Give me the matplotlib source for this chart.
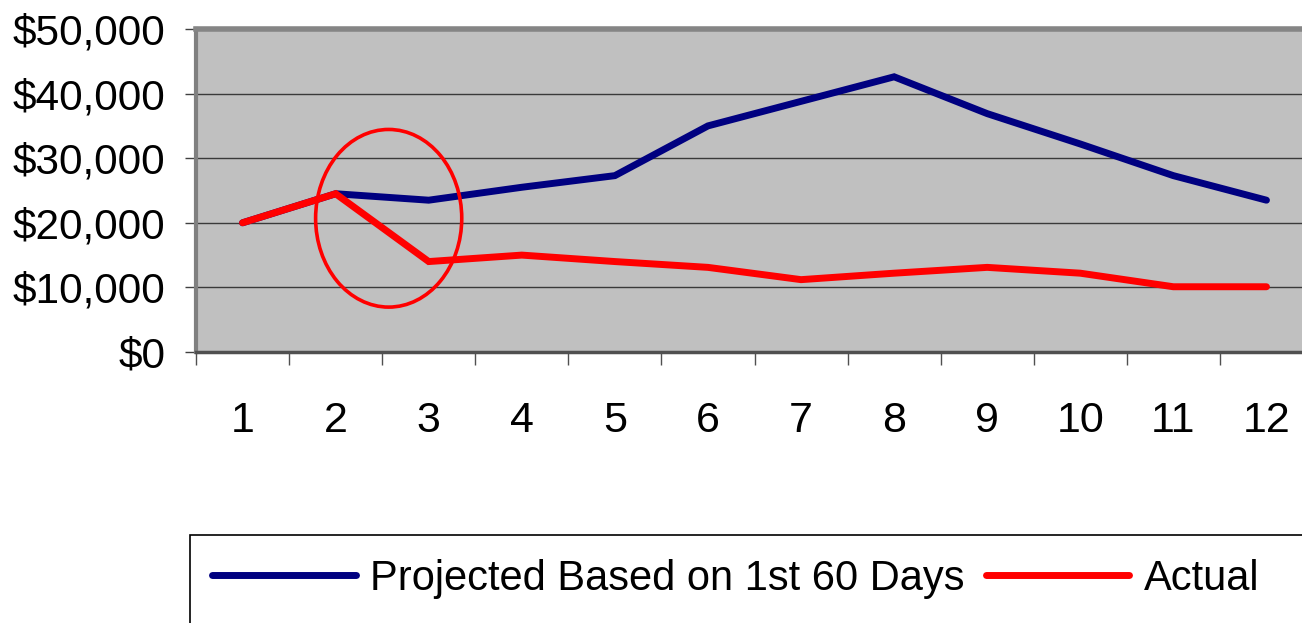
import matplotlib
matplotlib.use("Agg")
import matplotlib.pyplot as plt
from matplotlib.patches import Ellipse, Rectangle
from matplotlib.ticker import FuncFormatter, FixedLocator

plt.rcParams['font.family'] = ['Liberation Sans', 'DejaVu Sans']

months = [1, 2, 3, 4, 5, 6, 7, 8, 9, 10, 11, 12]
month_labels = [str(m) for m in months]
projected = [20000, 24500, 23500, 25500, 27300, 35000, 38800, 42600, 36900, 32200, 27300, 23500]
actual = [20000, 24500, 14000, 15000, 14000, 13100, 11200, 12200, 13100, 12200, 10100, 10100]
series_names = ["Projected Based on 1st 60 Days", "Actual"]
y_ticks = [0, 10000, 20000, 30000, 40000, 50000]

# highlight ellipse (data coords)
ell_center = (2.57, 20700)
ell_width = 1.57
ell_height = 27500

W, H = 1302, 623
fig = plt.figure(figsize=(W / 100, H / 100), dpi=100)
ax = fig.add_axes([196 / W, 1 - 352 / H, (1313 - 196) / W, (352 - 29) / H])
ax.set_facecolor('#C0C0C0')

ax.set_xlim(0.5, 12.5)
ax.set_ylim(0, 50000)

for yv in y_ticks[1:]:
    ax.axhline(yv, color='#3a3a3a', lw=1.0, zorder=1)

l1, = ax.plot(months, projected, color='#000080', lw=5, solid_capstyle='round',
              solid_joinstyle='miter', zorder=3, label=series_names[0])
l2, = ax.plot(months, actual, color='#FF0000', lw=5, solid_capstyle='round',
              solid_joinstyle='miter', zorder=4, label=series_names[1])

ax.add_patch(Ellipse(ell_center, ell_width, ell_height, fill=False,
                     edgecolor='#FF0000', lw=2.6, zorder=5))

# y axis
ax.set_yticks(y_ticks)
ax.yaxis.set_major_formatter(FuncFormatter(lambda v, p: "${:,.0f}".format(v)))
ax.tick_params(axis='y', direction='out', length=8, width=1, color='#404040',
               labelsize=30.5, pad=14)

# x axis: ticks at boundaries, labels at centers
ax.xaxis.set_major_locator(FixedLocator([m - 0.5 for m in months] + [12.5]))
ax.xaxis.set_minor_locator(FixedLocator(months))
ax.set_xticklabels([])
ax.set_xticklabels(month_labels, minor=True)
ax.tick_params(axis='x', which='major', direction='out', length=9, width=1, color='#505050')
ax.tick_params(axis='x', which='minor', length=0, labelsize=31, pad=35)

ax.spines['top'].set_color('#858585')
ax.spines['top'].set_linewidth(4)
ax.spines['left'].set_color('#808080')
ax.spines['left'].set_linewidth(3)
ax.spines['bottom'].set_color('#505050')
ax.spines['bottom'].set_linewidth(2.5)
ax.spines['right'].set_visible(False)

# legend box (extends past figure edges)
fig.patches.append(Rectangle((190 / W, -0.1), 1.0, (1 - 535 / H) + 0.1,
                             transform=fig.transFigure, fill=False,
                             edgecolor='black', lw=1.2))
fig.legend(handles=[l1, l2], loc='center left', bbox_to_anchor=(212 / W, 1 - 579 / H),
           ncol=2, frameon=False, fontsize=30, borderpad=0, borderaxespad=0,
           handlelength=3.45, handletextpad=0.35, columnspacing=0.5)

fig.savefig('out.png', dpi=100)
